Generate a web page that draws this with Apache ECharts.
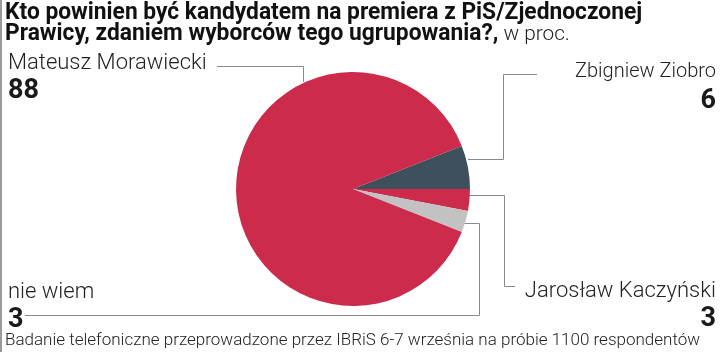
<!DOCTYPE html>
<html>
<head>
<meta charset="utf-8">
<script src="https://cdn.jsdelivr.net/npm/echarts@6/dist/echarts.min.js"></script>
<style>
  html, body { margin: 0; padding: 0; background: #fff; }
  #chart { width: 720px; height: 352px; }
</style>
</head>
<body>
<div id="chart"></div>
<script>
// slices in clockwise order, starting from Ziobro at the top of the 3 o'clock line
var names = ['Zbigniew Ziobro', 'Jarosław Kaczyński', 'nie wiem', 'Mateusz Morawiecki'];
var values = [6, 3, 3, 88];
var colors = ['#3e505b', '#cc2b4c', '#c2c2c2', '#cc2b4c'];

var titleLine1 = 'Kto powinien być kandydatem na premiera z PiS/Zjednoczonej';
var titleLine2 = 'Prawicy, zdaniem wyborców tego ugrupowania?,';
var titleUnit = ' w proc.';
var footnote = 'Badanie telefoniczne przeprowadzone przez IBRiS 6-7 września na próbie 1100 respondentów';

var chart = echarts.init(document.getElementById('chart'));

var total = 0;
values.forEach(function (v) { total += v; });

var pieData = names.map(function (n, i) {
    return { name: n, value: values[i], itemStyle: { color: colors[i] } };
});

var lineStyle = { stroke: '#8a8a8a', lineWidth: 1, fill: null };

var labelText = function (i, x, y, align, size) {
    var side = align == 'right' ? { right: x } : { left: x };
    return [
        Object.assign({ type: 'text', top: y,
          style: { text: names[i], fontFamily: 'Roboto', fontWeight: 300, fontSize: size || 22, fill: '#222' } }, side),
        Object.assign({ type: 'text', top: y + 26,
          style: { text: String(values[i]), fontFamily: 'Roboto', fontWeight: 'bold', fontSize: 27, fill: '#1a1a1a' } }, side)
    ];
};

var nieIdx = names.indexOf('nie wiem');

var option = {
    animation: false,
    series: [{
        type: 'pie',
        center: [353, 189],
        radius: 117,
        startAngle: 360 * values[0] / total,
        clockwise: true,
        silent: true,
        label: { show: false },
        labelLine: { show: false },
        data: pieData
    }],
    graphic: [
        { type: 'rect', shape: { x: 0, y: 0, width: 2, height: 352 }, style: { fill: '#9a9a9a' } },
        {
            type: 'text', x: 5, y: 3, scaleX: 0.99,
            style: {
                text: '{b|' + titleLine1 + '}\n{b|' + titleLine2 + '}{l|' + titleUnit + '}',
                rich: {
                    b: { fontFamily: 'Roboto', fontWeight: 'bold', fontSize: 23, lineHeight: 21, fill: '#111' },
                    l: { fontFamily: 'Roboto', fontWeight: 300, fontSize: 21, lineHeight: 21, fill: '#222' }
                }
            }
        },
        // leader lines
        { type: 'polyline', shape: { points: [[217, 66.5], [303.5, 66.5], [303.5, 82]] }, style: lineStyle },
        { type: 'polyline', shape: { points: [[537, 74.5], [503.5, 74.5], [503.5, 159.5], [468, 159.5]] }, style: lineStyle },
        { type: 'polyline', shape: { points: [[468, 195.5], [504.5, 195.5], [504.5, 286.5], [515, 286.5]] }, style: lineStyle },
        { type: 'polyline', shape: { points: [[460, 223.5], [479.5, 223.5], [479.5, 315.5], [25, 315.5]] }, style: lineStyle }
    ]
        .concat(labelText(3, 8, 52, 'left'))
        .concat(labelText(0, 4, 62, 'right', 20))
        .concat(labelText(nieIdx, 8, 281, 'left'))
        .concat(labelText(1, 4, 280, 'right'))
        .concat([{
            type: 'text', left: 5, top: 332,
            style: { text: footnote, fontFamily: 'Roboto', fontWeight: 300, fontSize: 17, fill: '#222' }
        }])
};

chart.setOption(option);
</script>
</body>
</html>
